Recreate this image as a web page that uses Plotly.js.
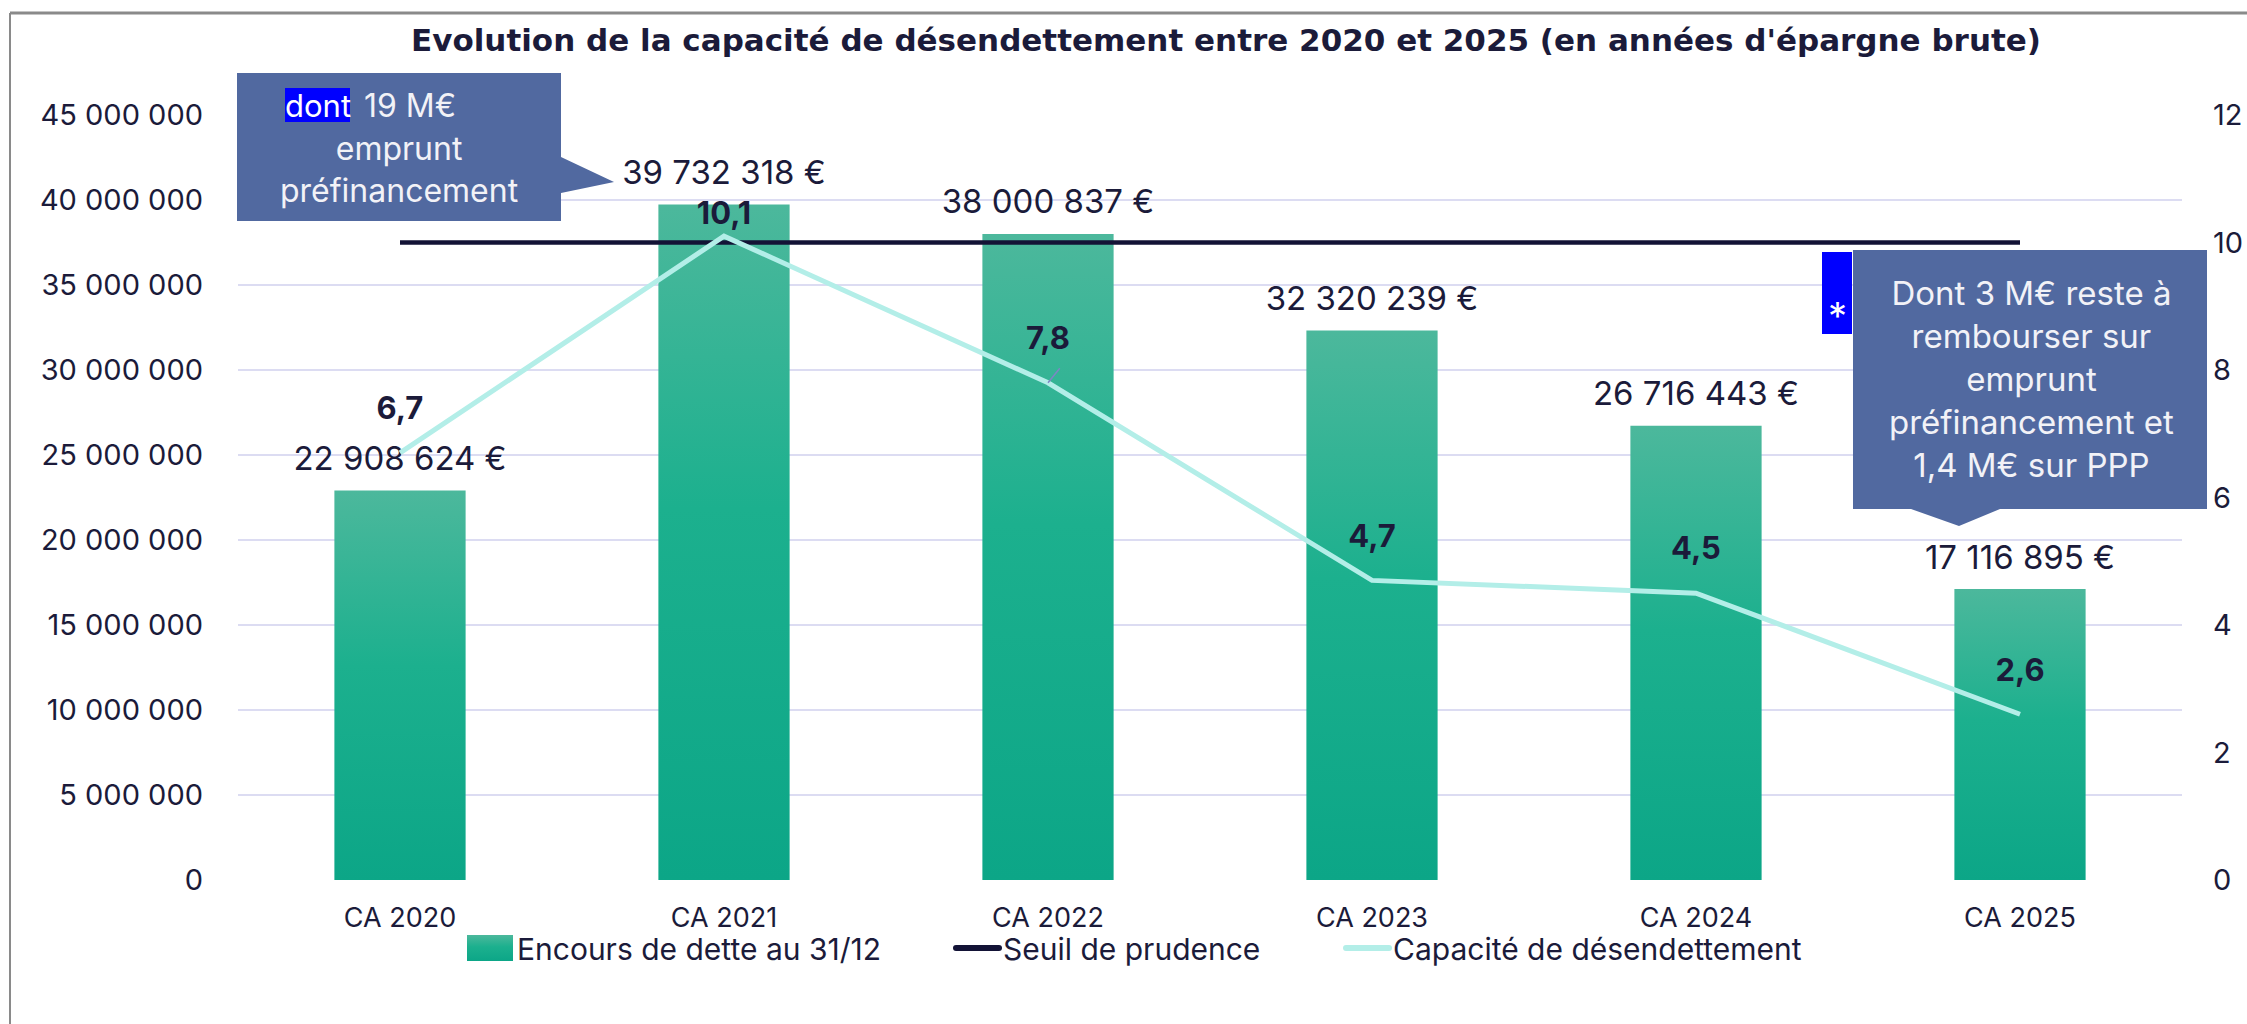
<!DOCTYPE html>
<html>
<head>
<meta charset="utf-8">
<script src="https://cdn.plot.ly/plotly-3.0.1.min.js"></script>
<style>
  html, body { margin: 0; padding: 0; background: #ffffff; }
  #chart { width: 2247px; height: 1024px; }
</style>
</head>
<body>
<div id="chart"></div>
<script>
// ---- Data ----
const categories = ["CA 2020", "CA 2021", "CA 2022", "CA 2023", "CA 2024", "CA 2025"];
const encoursDette = [22908624, 39732318, 38000837, 32320239, 26716443, 17116895];
const seuilPrudence = [10, 10, 10, 10, 10, 10];
const capaciteDesendettement = [6.7, 10.1, 7.8, 4.7, 4.5, 2.6];
const leftTicks = [0, 5000000, 10000000, 15000000, 20000000, 25000000, 30000000, 35000000, 40000000, 45000000];
const rightTicks = [0, 2, 4, 6, 8, 10, 12];
const seriesNames = ["Encours de dette au 31/12", "Seuil de prudence", "Capacité de désendettement"];
const titleText = "Evolution de la capacité de désendettement entre 2020 et 2025 (en années d'épargne brute)";
const note1Head = "dont";
const note1Tail = "19 M€";
const note1Body = "emprunt<br>préfinancement";
const note2Text = "Dont 3 M€ reste à<br>rembourser sur<br>emprunt<br>préfinancement et<br>1,4 M€ sur PPP";

// ---- Style (label offsets / legend placement, not data) ----
const capLabelMarkerSizes = [40, 6, 40, 40, 40, 40];
const legendTextLeft = [517, 1003, 1393];

// ---- Geometry helpers (pixel -> paper) ----
const W = 2247, H = 1024;
const M = { l: 238, r: 65, t: 115, b: 144 };
const PW = W - M.l - M.r, PH = H - M.t - M.b;
const px = x => (x - M.l) / PW;
const py = y => (H - M.b - y) / PH;
function pathFrom(points) {
  return points.map((p, i) => (i === 0 ? "M " : "L ") + px(p[0]).toFixed(5) + "," + py(p[1]).toFixed(5)).join(" ") + " Z";
}

const FONT = "Inter, 'Noto Sans', sans-serif";
const TXT = "#1b1b3a";
const BOX = "#5169a0";

const traces = [
  {
    type: "bar", name: seriesNames[0], x: categories, y: encoursDette,
    width: 0.405, marker: { color: "#2aae8f" }, yaxis: "y", hoverinfo: "skip"
  },
  {
    type: "scatter", mode: "lines", name: seriesNames[1], x: categories, y: seuilPrudence,
    yaxis: "y2", line: { color: "#131336", width: 4.5 }, hoverinfo: "skip"
  },
  {
    type: "scatter", mode: "lines", name: seriesNames[2], x: categories, y: capaciteDesendettement,
    yaxis: "y2", line: { color: "#b3eee8", width: 5 }, hoverinfo: "skip"
  },
  {
    type: "scatter", mode: "markers+text", x: categories, y: encoursDette, yaxis: "y",
    texttemplate: "%{y:,.0f} €", textposition: "top center",
    textfont: { family: FONT, size: 33, color: TXT },
    marker: { size: 18, opacity: 0 }, showlegend: false, hoverinfo: "skip", cliponaxis: false
  },
  {
    type: "scatter", mode: "markers+text", x: categories, y: capaciteDesendettement, yaxis: "y2",
    texttemplate: "%{y:.1f}", textposition: "top center",
    textfont: { family: FONT, size: 31, color: TXT, weight: 700 },
    marker: { size: capLabelMarkerSizes, opacity: 0 }, showlegend: false, hoverinfo: "skip", cliponaxis: false
  }
];

const shapes = [
  // outer frame (top and left)
  { type: "line", xref: "paper", yref: "paper", x0: px(10), x1: px(2247), y0: py(13), y1: py(13), line: { color: "#8a8a8a", width: 3 } },
  { type: "line", xref: "paper", yref: "paper", x0: px(10), x1: px(10), y0: py(13), y1: py(1024), line: { color: "#8a8a8a", width: 2 } },
  // callout 1
  { type: "path", xref: "paper", yref: "paper", layer: "above",
    path: pathFrom([[237,73],[561,73],[561,157],[614,182],[561,193],[561,221],[237,221]]),
    fillcolor: BOX, line: { width: 0 } },
  // callout 2
  { type: "path", xref: "paper", yref: "paper", layer: "above",
    path: pathFrom([[1853,250],[2207,250],[2207,509],[2000,509],[1959,526],[1911,509],[1853,509]]),
    fillcolor: BOX, line: { width: 0 } },
  // blue asterisk box
  { type: "rect", xref: "paper", yref: "paper", layer: "above",
    x0: px(1822), x1: px(1852), y0: py(252), y1: py(334), fillcolor: "#0000ff", line: { width: 0 } },
  // "dont" highlight
  { type: "rect", xref: "paper", yref: "paper", layer: "above",
    x0: px(285), x1: px(350), y0: py(88), y1: py(122), fillcolor: "#0000ff", line: { width: 0 } }
];

const annotations = [
  { xref: "paper", yref: "paper", x: px(317.5), y: py(105), text: note1Head, showarrow: false,
    xanchor: "center", yanchor: "middle", font: { family: FONT, size: 31, color: "#ffffff" } },
  { xref: "paper", yref: "paper", x: px(362), y: py(105), text: note1Tail, showarrow: false,
    xanchor: "left", yanchor: "middle", font: { family: FONT, size: 32, color: "#f2f2f7" } },
  { xref: "paper", yref: "paper", x: px(399), y: py(170), text: note1Body, showarrow: false,
    xanchor: "center", yanchor: "middle", font: { family: FONT, size: 32, color: "#f2f2f7" } },
  { xref: "paper", yref: "paper", x: px(2031), y: py(379), text: note2Text, showarrow: false,
    xanchor: "center", yanchor: "middle", align: "center", font: { family: FONT, size: 33, color: "#f2f2f7" } },
  { xref: "paper", yref: "paper", x: px(1837), y: py(316), text: "*", showarrow: false,
    xanchor: "center", yanchor: "middle", font: { family: FONT, size: 38, color: "#ffffff" } },
  // small leader line of the 2022 label
  { xref: "x", yref: "y2", x: categories[2], y: capaciteDesendettement[2], text: "", showarrow: true,
    arrowhead: 0, arrowwidth: 1.5, arrowcolor: "#7c86c4", ax: 13, ay: -16, standoff: 0 }
];

const layout = {
  width: W, height: H,
  margin: M,
  paper_bgcolor: "#ffffff", plot_bgcolor: "#ffffff",
  separators: ", ",
  font: { family: FONT, color: TXT },
  title: {
    text: titleText, font: { family: "'DejaVu Sans', Inter, sans-serif", size: 31, color: TXT, weight: 700 },
    x: 1226 / W, xref: "container", xanchor: "center", y: 1 - 40 / H, yref: "container", yanchor: "middle"
  },
  xaxis: {
    type: "category", tickfont: { family: FONT, size: 27, color: TXT },
    showline: false, showgrid: false, ticks: "", ticklabelstandoff: 19, fixedrange: true
  },
  yaxis: {
    range: [0, 45000000], tickvals: leftTicks, tickformat: ",.0f",
    tickfont: { family: FONT, size: 29, color: TXT }, showgrid: true, gridcolor: "#dcdcf2", gridwidth: 2,
    zeroline: false, showline: false, ticks: "", ticklabelstandoff: 34
  },
  yaxis2: {
    range: [0, 12], tickvals: rightTicks, overlaying: "y", side: "right",
    tickfont: { family: FONT, size: 29, color: TXT }, showgrid: false, zeroline: false, showline: false,
    ticks: "", ticklabelstandoff: 30
  },
  showlegend: true,
  legend: {
    orientation: "h", xref: "container", yref: "container", x: 430 / W, xanchor: "left",
    y: 1 - 948 / H, yanchor: "middle", font: { family: FONT, size: 30, color: TXT },
    bgcolor: "rgba(0,0,0,0)", itemwidth: 30, traceorder: "normal",
    entrywidth: 430, entrywidthmode: "pixels"
  },
  shapes: shapes,
  annotations: annotations
};

Plotly.newPlot("chart", traces, layout, { staticPlot: true, displayModeBar: false }).then(gd => {
  // vertical gradient on bars (lighter at the top)
  const svg = gd.querySelector("svg.main-svg");
  const ns = "http://www.w3.org/2000/svg";
  let defs = svg.querySelector("defs");
  if (!defs) { defs = document.createElementNS(ns, "defs"); svg.insertBefore(defs, svg.firstChild); }
  const grad = document.createElementNS(ns, "linearGradient");
  grad.setAttribute("id", "barGrad");
  grad.setAttribute("x1", "0"); grad.setAttribute("y1", "0");
  grad.setAttribute("x2", "0"); grad.setAttribute("y2", "1");
  [["0", "#4cb89c"], ["0.45", "#1cb08e"], ["1", "#0ca687"]].forEach(([o, c]) => {
    const s = document.createElementNS(ns, "stop"); s.setAttribute("offset", o); s.setAttribute("stop-color", c); grad.appendChild(s);
  });
  defs.appendChild(grad);
  gd.querySelectorAll(".barlayer .point path").forEach(p => { p.style.fill = "url(#barGrad)"; });

  // legend: wider swatches, item placement as in the reference
  const sb = gd.querySelector(".legend .scrollbox");
  if (sb) sb.removeAttribute("clip-path");
  const items = gd.querySelectorAll(".legend .traces");
  items.forEach((g, i) => {
    const barPath = g.querySelector(".legendpoints path");
    const linePath = g.querySelector(".legendlines path");
    if (i === 0 && barPath) {
      barPath.setAttribute("transform", "");
      barPath.setAttribute("d", "M-10,-13H36V13H-10Z");
      barPath.style.fill = "url(#barGrad)";
    }
    if (linePath) {
      linePath.setAttribute("transform", "");
      linePath.setAttribute("d", "M-7,0H36");
      linePath.style.strokeLinecap = "round";
      linePath.style.strokeWidth = "6px";
    }
    const t = g.querySelector("text.legendtext");
    const m = /translate\(\s*([-\d.eE]+)[ ,]+([-\d.eE]+)\s*\)/.exec(g.getAttribute("transform") || "translate(0,0)");
    if (t && m && legendTextLeft[i] !== undefined) {
      const r = t.getBoundingClientRect();
      const nx = parseFloat(m[1]) + (legendTextLeft[i] - r.left);
      g.setAttribute("transform", "translate(" + nx + "," + m[2] + ")");
    }
  });
});
</script>
</body>
</html>
